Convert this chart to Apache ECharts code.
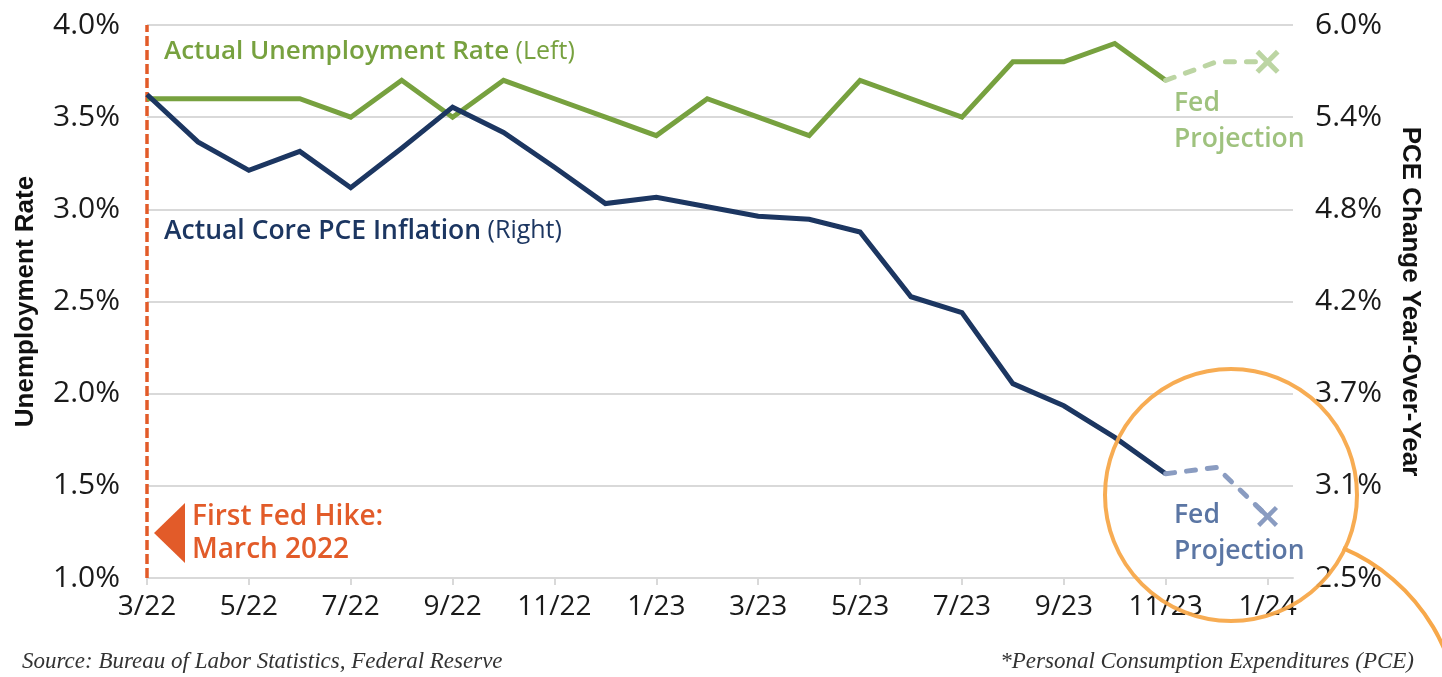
<!DOCTYPE html>
<html>
<head>
<meta charset="utf-8">
<script src="https://cdn.jsdelivr.net/npm/echarts@6/dist/echarts.min.js"></script>
<style>
  html, body { margin: 0; padding: 0; background: #ffffff; }
  #chart { width: 1442px; height: 677px; }
</style>
</head>
<body>
<div id="chart"></div>
<script>
// ---- data ----
const months = ['3/22','4/22','5/22','6/22','7/22','8/22','9/22','10/22','11/22','12/22',
                '1/23','2/23','3/23','4/23','5/23','6/23','7/23','8/23','9/23','10/23','11/23',
                '12/23','1/24'];
const unemploymentActual = [3.6,3.6,3.6,3.6,3.5,3.7,3.5,3.7,3.6,3.5,3.4,3.6,3.5,3.4,3.7,3.6,3.5,3.8,3.8,3.9,3.7];
const unemploymentProjection = [3.7,3.8,3.8];      // 11/23, 12/23, 1/24
const corePceActual = [5.56,5.26,5.08,5.20,4.97,5.22,5.48,5.32,5.10,4.87,4.91,4.85,4.79,4.77,4.69,4.28,4.18,3.73,3.59,3.39,3.16];
const corePceProjection = [3.16,3.20,2.89];        // 11/23, 12/23, 1/24
const leftTickLabels = ['1.0%','1.5%','2.0%','2.5%','3.0%','3.5%','4.0%'];
const rightTickLabels = ['2.5%','3.1%','3.7%','4.2%','4.8%','5.4%','6.0%'];
const projectionStart = months.indexOf('11/23');

// ---- styling ----
const GREEN = '#77a13f', NAVY = '#1c3661', ORANGE = '#e25b29';
const GREEN_PROJ_LINE = '#bcd5a3', NAVY_PROJ_LINE = '#8a9cc1';
const GREEN_PROJ_TEXT = '#9fc27e', NAVY_PROJ_TEXT = '#5b76a4';
const GRID = '#d9d9d9';
const NARROW = '"Liberation Sans Narrow", "Arial Narrow", "Open Sans", sans-serif';
const HUMAN = '"Open Sans", "Noto Sans", sans-serif';
const X_MARK = 'path://M1.5,0 L5,3.5 L8.5,0 L10,1.5 L6.5,5 L10,8.5 L8.5,10 L5,6.5 L1.5,10 L0,8.5 L3.5,5 L0,1.5 Z';

const labelIdx = months.map((m, i) => i).filter(i => i % 2 === 0);
const L_MIN = 1.0, L_MAX = 4.0, L_INT = 0.5;
const R_MIN = 2.5, R_MAX = 6.0, R_INT = (R_MAX - R_MIN) / (rightTickLabels.length - 1);

function pairs(values, start) { return values.map((v, i) => [start + i, v]); }
function withEndMark(values, start, size) {
  return values.map((v, i) => i === values.length - 1
    ? { value: [start + i, v], symbol: X_MARK, symbolSize: size }
    : { value: [start + i, v], symbol: 'none' });
}

const chart = echarts.init(document.getElementById('chart'), null, { renderer: 'canvas' });
chart.setOption({
  animation: false,
  backgroundColor: '#ffffff',
  grid: { left: 147, right: 149, top: 25, bottom: 99, containLabel: false },
  xAxis: {
    type: 'value', min: 0, max: months.length - 0.5, interval: 2,
    axisLine: { show: true, lineStyle: { color: GRID, width: 2 } },
    axisTick: { show: true, length: 7, customValues: labelIdx, lineStyle: { color: GRID, width: 2 } },
    axisLabel: {
      customValues: labelIdx, margin: 15,
      formatter: v => (Number.isInteger(v) && v % 2 === 0 && months[v]) ? months[v] : '',
      fontFamily: NARROW, fontSize: 28, color: '#1a1a1a'
    },
    splitLine: { show: false }
  },
  yAxis: [
    {
      type: 'value', min: L_MIN, max: L_MAX, interval: L_INT, position: 'left',
      name: 'Unemployment Rate', nameLocation: 'middle', nameGap: 108, nameRotate: 90,
      nameTextStyle: { fontFamily: '"Liberation Sans", Arial, sans-serif', fontWeight: 'bold', fontSize: 26, color: '#111' },
      axisLine: { show: false }, axisTick: { show: false },
      axisLabel: {
        margin: 27, fontFamily: NARROW, fontSize: 30, color: '#1a1a1a',
        formatter: v => leftTickLabels[Math.round((v - L_MIN) / L_INT)] || ''
      },
      splitLine: { show: true, lineStyle: { color: GRID, width: 2 } }
    },
    {
      type: 'value', min: R_MIN, max: R_MAX, interval: R_INT, position: 'right',
      name: 'PCE Change Year-Over-Year', nameLocation: 'middle', nameGap: 104, nameRotate: -90,
      nameTextStyle: { fontFamily: '"Liberation Sans", Arial, sans-serif', fontWeight: 'bold', fontSize: 26, color: '#111' },
      axisLine: { show: false }, axisTick: { show: false },
      axisLabel: {
        margin: 22, fontFamily: NARROW, fontSize: 30, color: '#1a1a1a',
        formatter: v => rightTickLabels[Math.round((v - R_MIN) / R_INT)] || ''
      },
      splitLine: { show: false }
    }
  ],
  series: [
    {
      name: 'Actual Unemployment Rate', type: 'line', yAxisIndex: 0, z: 3,
      data: pairs(unemploymentActual, 0), symbol: 'none',
      lineStyle: { color: GREEN, width: 5, join: 'miter' },
      markLine: {
        silent: true, symbol: 'none', label: { show: false }, z: 1,
        lineStyle: { color: ORANGE, width: 3.5, type: [10, 4] },
        data: [{ xAxis: 0 }]
      }
    },
    {
      name: 'Unemployment Projection', type: 'line', yAxisIndex: 0, z: 3,
      data: withEndMark(unemploymentProjection, projectionStart, 24),
      showSymbol: true, symbol: 'none',
      itemStyle: { color: GREEN_PROJ_LINE },
      lineStyle: { color: GREEN_PROJ_LINE, width: 5, type: [9, 12], cap: 'round' }
    },
    {
      name: 'Actual Core PCE Inflation', type: 'line', yAxisIndex: 1, z: 4,
      data: pairs(corePceActual, 0), symbol: 'none',
      lineStyle: { color: NAVY, width: 5, join: 'miter' }
    },
    {
      name: 'Core PCE Projection', type: 'line', yAxisIndex: 1, z: 4,
      data: withEndMark(corePceProjection, projectionStart, 21),
      showSymbol: true, symbol: 'none',
      itemStyle: { color: NAVY_PROJ_LINE },
      lineStyle: { color: NAVY_PROJ_LINE, width: 5, type: [9, 12], cap: 'round' }
    }
  ],
  graphic: [
    { type: 'text', x: 164, y: 52, z: 10, style: {
        text: '{b|Actual Unemployment Rate}{n| (Left)}', verticalAlign: 'middle',
        rich: {
          b: { fontFamily: HUMAN, fontWeight: 600, fontSize: 26, fill: GREEN },
          n: { fontFamily: HUMAN, fontWeight: 400, fontSize: 25, fill: GREEN }
        } } },
    { type: 'text', x: 164, y: 231, z: 10, style: {
        text: '{b|Actual Core PCE Inflation}{n| (Right)}', verticalAlign: 'middle',
        rich: {
          b: { fontFamily: HUMAN, fontWeight: 600, fontSize: 26.5, fill: NAVY },
          n: { fontFamily: HUMAN, fontWeight: 400, fontSize: 25, fill: NAVY }
        } } },
    { type: 'polygon', z: 10, shape: { points: [[154, 533], [185, 503], [185, 563]] }, style: { fill: ORANGE } },
    { type: 'text', x: 192, y: 501, z: 10, style: {
        text: 'First Fed Hike:\nMarch 2022', fontFamily: HUMAN, fontWeight: 600, fontSize: 28,
        lineHeight: 33, fill: ORANGE, verticalAlign: 'top' } },
    { type: 'text', x: 1174, y: 85, z: 10, style: {
        text: 'Fed\nProjection', fontFamily: HUMAN, fontWeight: 600, fontSize: 26.5,
        lineHeight: 36, fill: GREEN_PROJ_TEXT, verticalAlign: 'top' } },
    { type: 'text', x: 1174, y: 497, z: 10, style: {
        text: 'Fed\nProjection', fontFamily: HUMAN, fontWeight: 600, fontSize: 26.5,
        lineHeight: 36, fill: NAVY_PROJ_TEXT, verticalAlign: 'top' } },
    { type: 'circle', z: 100, shape: { cx: 1231, cy: 495, r: 126 },
      style: { fill: 'none', stroke: '#f7a84a', lineWidth: 4, opacity: 0.95 } },
    { type: 'arc', z: 100, shape: { cx: 1268, cy: 725, r: 192, startAngle: -1.17, endAngle: 0.1, clockwise: true },
      style: { fill: 'none', stroke: '#f7a84a', lineWidth: 4 } },
    { type: 'text', x: 22, y: 662, z: 10, style: {
        text: 'Source: Bureau of Labor Statistics, Federal Reserve', fontFamily: '"Liberation Serif", "DejaVu Serif", serif',
        fontStyle: 'italic', fontSize: 23, fill: '#333333', verticalAlign: 'middle' } },
    { type: 'text', x: 1414, y: 662, z: 10, style: {
        text: '*Personal Consumption Expenditures (PCE)', fontFamily: '"Liberation Serif", "DejaVu Serif", serif',
        fontStyle: 'italic', fontSize: 23, fill: '#333333', verticalAlign: 'middle', align: 'right' } }
  ]
});
</script>
</body>
</html>
